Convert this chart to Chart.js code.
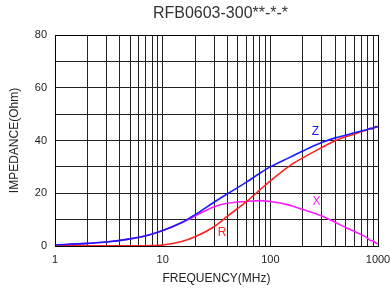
<!DOCTYPE html>
<html>
<head>
<meta charset="utf-8">
<script src="https://cdn.jsdelivr.net/npm/chart.js@4/dist/chart.umd.min.js"></script>
<style>
html,body{margin:0;padding:0;background:#fff;}
#wrap{width:390px;height:293px;}
</style>
</head>
<body>
<div id="wrap"><canvas id="c" width="390" height="293"></canvas></div>
<script>
const chartTitle = 'RFB0603-300**-*-*';
const xTitle = 'FREQUENCY(MHz)';
const yTitle = 'IMPEDANCE(Ohm)';
const freq  = [1,2,3,5,7,10,15,20,30,40,60,80,100,150,200,300,400,500,600,700,800,850,900,950,1000];
const zVals = [0.4,1.0,1.5,2.7,3.9,5.9,8.9,11.9,16.6,19.8,24.2,27.6,30.0,33.5,36.0,39.2,41.0,42.0,42.9,43.6,44.2,44.5,44.7,45.0,45.3];
const rVals = [0.1,0.1,0.1,0.1,0.1,0.4,1.7,3.5,7.3,11.3,16.8,21.3,24.7,30.3,33.4,37.3,39.9,41.4,42.4,43.4,44.1,44.6,44.4,45.4,45.1];
const xVals = [0.4,1.0,1.5,2.7,3.9,5.8,8.8,11.4,14.9,16.2,16.9,17.2,16.9,15.5,13.8,11.4,9.0,7.0,5.6,4.3,3.0,2.1,2.0,1.2,0.8];
const xTickLabels = [1,10,100,1000];
const yTickLabels = [0,20,40,60,80];
const curveLabels = [
  {text:'Z', f:262, v:43.2, color:'#1a1aff'},
  {text:'X', f:268, v:16.7, color:'#ff1aff'},
  {text:'R', f:35.7, v:5.2, color:'#ff2020'}
];

function pts(vals){ return freq.map((f,i)=>({x:f,y:vals[i]})); }

const minorTicks = [];
[1,10,100].forEach(d=>{ for(let k=1;k<10;k++) minorTicks.push(d*k); });
minorTicks.push(1000);

const labelPlugin = {
  id:'labels',
  afterDatasetsDraw(chart){
    const ctx = chart.ctx, xs = chart.scales.x, ys = chart.scales.y;
    ctx.save();
    ctx.font = '12px "Liberation Sans", Arial, sans-serif';
    ctx.textAlign = 'center'; ctx.textBaseline = 'middle';
    curveLabels.forEach(l=>{
      ctx.fillStyle = l.color;
      ctx.fillText(l.text, xs.getPixelForValue(l.f), ys.getPixelForValue(l.v));
    });
    const ca = chart.chartArea;
    ctx.fillStyle = '#333';
    ctx.font = '16px "Liberation Sans", Arial, sans-serif';
    ctx.fillText(chartTitle, (ca.left+ca.right)/2 + 4, 14);
    ctx.strokeStyle = '#000'; ctx.lineWidth = 1;
    ctx.strokeRect(Math.round(ca.left)+0.5, Math.round(ca.top)+0.5, Math.round(ca.right-ca.left), Math.round(ca.bottom-ca.top));
    ctx.restore();
  }
};

new Chart(document.getElementById('c'), {
  type:'line',
  data:{
    datasets:[
      {label:'Z', data:pts(zVals), borderColor:'#1a1aff', borderWidth:1.6, pointRadius:0, cubicInterpolationMode:'monotone', fill:false},
      {label:'R', data:pts(rVals), borderColor:'#ff2020', borderWidth:1.6, pointRadius:0, cubicInterpolationMode:'monotone', fill:false},
      {label:'X', data:pts(xVals), borderColor:'#ff1aff', borderWidth:1.6, pointRadius:0, cubicInterpolationMode:'monotone', fill:false}
    ]
  },
  options:{
    responsive:false,
    animation:false,
    devicePixelRatio:1,
    layout:{padding:{top:35,right:12,left:0,bottom:0}},
    plugins:{legend:{display:false}, title:{display:false}, tooltip:{enabled:false}},
    scales:{
      x:{
        type:'logarithmic', min:1, max:1000,
        afterBuildTicks(s){ s.ticks = minorTicks.map(v=>({value:v})); },
        afterFit(s){ s.height = 47; s.paddingRight = 0; s.paddingLeft = 0; },
        grid:{color:'#222', lineWidth:1, drawTicks:false},
        border:{display:false},
        ticks:{autoSkip:false, maxRotation:0, padding:7, color:'#222', font:{size:11, family:'"Liberation Sans", Arial, sans-serif'},
          callback(v){ return xTickLabels.includes(v) ? String(v) : ''; }},
        title:{display:true, text:xTitle, color:'#222', font:{size:12, family:'"Liberation Sans", Arial, sans-serif'}, padding:{top:0,bottom:7}}
      },
      y:{
        type:'linear', min:0, max:80,
        afterFit(s){ s.width = 55; s.paddingTop = 0; s.paddingBottom = 0; },
        grid:{color:'#222', lineWidth:1, drawTicks:false},
        border:{display:false},
        ticks:{stepSize:10, padding:8, color:'#222', font:{size:11, family:'"Liberation Sans", Arial, sans-serif'},
          callback(v){ return yTickLabels.includes(v) ? String(v) : ''; }},
        title:{display:true, text:yTitle, color:'#222', font:{size:12, family:'"Liberation Sans", Arial, sans-serif'}, padding:{top:7,bottom:0}}
      }
    }
  },
  plugins:[labelPlugin]
});
</script>
</body>
</html>
